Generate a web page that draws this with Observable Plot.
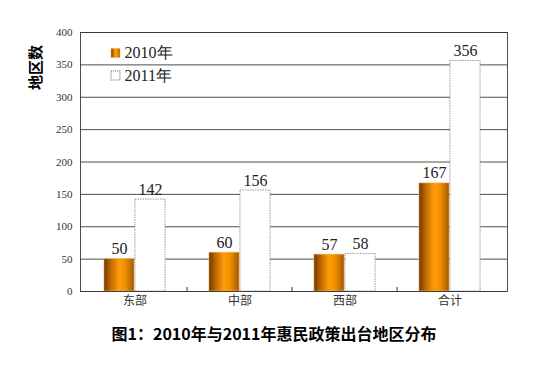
<!DOCTYPE html>
<html><head><meta charset="utf-8">
<script src="https://cdn.jsdelivr.net/npm/d3@7"></script>
<script src="https://cdn.jsdelivr.net/npm/@observablehq/plot@0.6"></script>
<style>
body{margin:0;background:#fff;width:548px;height:368px;overflow:hidden}
#cap{font-family:"Noto Sans CJK SC";font-weight:bold;font-size:16px;text-align:center;width:548px;line-height:20px;margin-top:8px;color:#000}
</style></head>
<body><div id="chart"></div><div id="cap"></div>
<script>
const categories = ["东部","中部","西部","合计"];
const values2010 = [50,60,57,167];
const values2011 = [142,156,58,356];
const seriesNames = ["2010年","2011年"];
const yTicks = [0,50,100,150,200,250,300,350,400];
const yLabel = "地区数";
const titleText = "图1：2010年与2011年惠民政策出台地区分布";

const data2010 = categories.map((c,i)=>({cat:c, value:values2010[i]}));
const data2011 = categories.map((c,i)=>({cat:c, value:values2011[i]}));

const W=548, H=315, mL=80, mR=41, mT=32, mB=24;
const xRight = 503.5;
const bw = (xRight-mL)/categories.length;
const barW = 31;
const plotH = H-mT-mB;

const svg = Plot.plot({
  width: W, height: H,
  marginLeft: mL, marginRight: mR, marginTop: mT, marginBottom: mB,
  style: {fontFamily: "Liberation Serif", fontSize: "11px", color: "#333", background: "#fff"},
  x: {type: "band", domain: categories, padding: 0, range: [mL, xRight]},
  y: {domain: [0,400]},
  marks: [
    Plot.ruleY(yTicks, {stroke: "#3a3a3a", strokeWidth: 0.9}),
    Plot.barY(data2010, {x: "cat", y: "value", fill: "url(#g2010)", stroke: "#f6c46a", strokeWidth: 0.6,
      insetLeft: bw/2 - barW, insetRight: bw/2}),
    Plot.barY(data2011, {x: "cat", y: "value", fill: "#fff", stroke: "#9a9a9a", strokeWidth: 1, strokeDasharray: "1.5,1",
      insetLeft: bw/2, insetRight: bw/2 - barW}),
    Plot.text(data2010, {x: "cat", y: "value", text: d => String(d.value), dx: -barW/2, dy: -10, fontSize: 16, fill: "#222"}),
    Plot.text(data2011, {x: "cat", y: "value", text: d => String(d.value), dx: barW/2, dy: -10, fontSize: 16, fill: "#222"}),
    Plot.frame({stroke: "#3a3a3a", strokeWidth: 0.9}),
    Plot.ruleX(categories.slice(1), {x: d => d, dx: -bw/2, insetTop: plotH - 4, stroke: "#333"}),
    Plot.axisY({ticks: yTicks, tickSize: 0, tickPadding: 8, label: null, fontSize: 11, fill: "#333"}),
    Plot.axisX({tickSize: 0, tickPadding: 5, label: null, fontFamily: "Noto Sans CJK SC", fontSize: 12, fill: "#333"}),
    Plot.dot([seriesNames[0]], {frameAnchor: "top-left", dx: 35, dy: 20.5, symbol: "square", r: 5, fill: "url(#g2010)", stroke: "#e0a040", strokeWidth: 0.5}),
    Plot.dot([seriesNames[1]], {frameAnchor: "top-left", dx: 35, dy: 43, symbol: "square", r: 5, fill: "#fff", stroke: "#9a9a9a", strokeDasharray: "1,1"}),
    Plot.text([seriesNames[0]], {text: d => d, frameAnchor: "top-left", dx: 44, dy: 20.5, textAnchor: "start", lineAnchor: "middle", fontSize: 16, fill: "#222"}),
    Plot.text([seriesNames[1]], {text: d => d, frameAnchor: "top-left", dx: 44, dy: 43, textAnchor: "start", lineAnchor: "middle", fontSize: 16, fill: "#222"}),
    Plot.text([yLabel], {text: d => d, frameAnchor: "top-left", dx: -44, dy: 35, rotate: -90, textAnchor: "middle", lineAnchor: "middle", fontSize: 15, fontWeight: "bold", fontFamily: "Noto Sans CJK SC", fill: "#000"})
  ]
});
svg.insertAdjacentHTML("afterbegin",
  `<defs><linearGradient id="g2010" x1="0" x2="1" y1="0" y2="0">
    <stop offset="0" stop-color="#6e3500"/>
    <stop offset="0.2" stop-color="#b86400"/>
    <stop offset="0.5" stop-color="#ff9c08"/>
    <stop offset="0.7" stop-color="#f29000"/>
    <stop offset="1" stop-color="#a05800"/>
  </linearGradient></defs>`);
document.getElementById("chart").appendChild(svg);
document.getElementById("cap").textContent = titleText;
</script>
</body></html>
